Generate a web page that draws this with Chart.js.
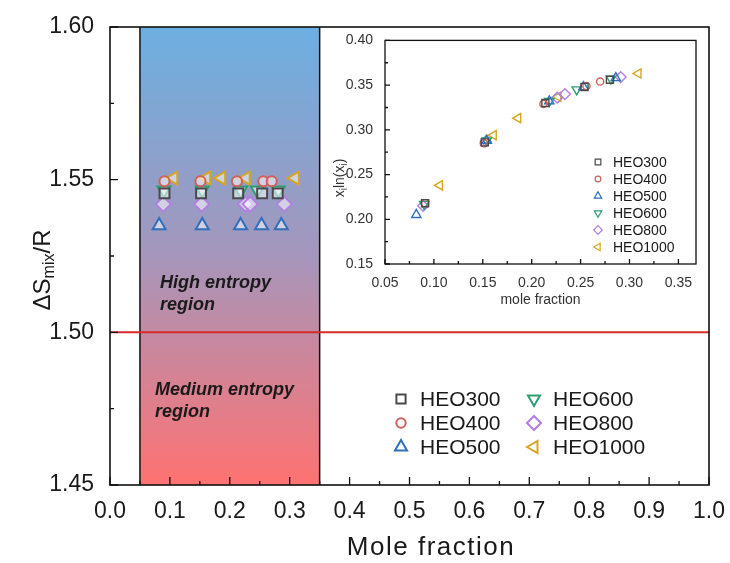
<!DOCTYPE html>
<html>
<head>
<meta charset="utf-8">
<script src="https://cdn.jsdelivr.net/npm/chart.js@4"></script>
<style>
  html, body { margin: 0; padding: 0; background: #fff; }
  #wrap { position: relative; width: 730px; height: 563px; }
  #main { position: absolute; left: 0; top: 0; }
  #inset { position: absolute; left: 328px; top: 28px; }
</style>
</head>
<body>
<div id="wrap">
  <canvas id="main" width="730" height="563"></canvas>
  <canvas id="inset" width="379" height="290"></canvas>
</div>
<script>
const FONT = '"Liberation Sans", Arial, sans-serif';

// series
const seriesNames = ["HEO300", "HEO400", "HEO500", "HEO600", "HEO800", "HEO1000"];
const seriesColors = ["#4a4a4a", "#d0605a", "#2f6fbd", "#2e9e72", "#b27ee2", "#d9a521"];

// mole fraction of each cation, per sample
const xHEO300 = [0.091, 0.152, 0.214, 0.254, 0.280];
const xHEO400 = [0.091, 0.151, 0.212, 0.256, 0.270];
const xHEO500 = [0.082, 0.154, 0.218, 0.253, 0.286];
const xHEO600 = [0.090, 0.154, 0.218, 0.246, 0.281];
const xHEO800 = [0.089, 0.153, 0.226, 0.234, 0.291];
const xHEO1000 = [0.106, 0.161, 0.186, 0.227, 0.309];

// ΔSmix/R of each sample
const entropyValues = [1.5455, 1.5495, 1.535, 1.5465, 1.542, 1.5505];
const entropyThreshold = 1.5;
const highEntropyBand = [0.05, 0.35];

// inset: xi ln(xi)
const yHEO300 = [0.218, 0.286, 0.330, 0.348, 0.356];
const yHEO400 = [0.218, 0.285, 0.329, 0.349, 0.354];
const yHEO500 = [0.205, 0.288, 0.332, 0.348, 0.358];
const yHEO600 = [0.217, 0.288, 0.332, 0.345, 0.357];
const yHEO800 = [0.215, 0.287, 0.336, 0.340, 0.359];
const yHEO1000 = [0.238, 0.294, 0.313, 0.337, 0.363];

const xSeries = [xHEO300, xHEO400, xHEO500, xHEO600, xHEO800, xHEO1000];
const ySeries = [yHEO300, yHEO400, yHEO500, yHEO600, yHEO800, yHEO1000];

// marker shapes; size is a relative factor per shape
const pointStyles = [
  { pointStyle: "rect", rotation: 0, size: 1.0 },
  { pointStyle: "circle", rotation: 0, size: 0.72 },
  { pointStyle: "triangle", rotation: 0, size: 1.07 },
  { pointStyle: "triangle", rotation: 180, size: 1.07 },
  { pointStyle: "rectRot", rotation: 0, size: 1.08 },
  { pointStyle: "triangle", rotation: -90, size: 1.07 },
];

function drawTicks(chart, majorLen, minorLen) {
  const { ctx, chartArea: a, scales } = chart;
  const x = scales.x, y = scales.y;
  ctx.save();
  ctx.strokeStyle = "#111";
  ctx.lineWidth = 1.3;
  ctx.beginPath();
  const xt = x.ticks.map((t) => t.value);
  xt.forEach((v, i) => {
    const px = x.getPixelForValue(v);
    ctx.moveTo(px, a.bottom);
    ctx.lineTo(px, a.bottom - majorLen);
    if (i < xt.length - 1) {
      const pm = x.getPixelForValue((v + xt[i + 1]) / 2);
      ctx.moveTo(pm, a.bottom);
      ctx.lineTo(pm, a.bottom - minorLen);
    }
  });
  const yt = y.ticks.map((t) => t.value);
  yt.forEach((v, i) => {
    const py = y.getPixelForValue(v);
    ctx.moveTo(a.left, py);
    ctx.lineTo(a.left + majorLen, py);
    if (i < yt.length - 1) {
      const pm = y.getPixelForValue((v + yt[i + 1]) / 2);
      ctx.moveTo(a.left, pm);
      ctx.lineTo(a.left + minorLen, pm);
    }
  });
  ctx.stroke();
  ctx.restore();
}

function drawLegendItem(ctx, i, px, py, radius, lw, font, gap) {
  ctx.save();
  ctx.strokeStyle = seriesColors[i];
  ctx.fillStyle = "rgba(255,255,255,0)";
  ctx.lineWidth = lw;
  Chart.helpers.drawPoint(ctx, {
    pointStyle: pointStyles[i].pointStyle,
    rotation: pointStyles[i].rotation,
    radius: radius * pointStyles[i].size,
    borderWidth: lw,
  }, px, py);
  ctx.fillStyle = "#1a1a1a";
  ctx.font = font;
  ctx.textAlign = "left";
  ctx.textBaseline = "middle";
  ctx.fillText(seriesNames[i], px + gap, py + 1);
  ctx.restore();
}

// ---------- main chart ----------
const bandPlugin = {
  id: "band",
  beforeDatasetsDraw(chart) {
    const { ctx, chartArea: a, scales: { x } } = chart;
    const x0 = x.getPixelForValue(highEntropyBand[0]);
    const x1 = x.getPixelForValue(highEntropyBand[1]);
    const g = ctx.createLinearGradient(0, a.top, 0, a.bottom);
    g.addColorStop(0, "#6cafe0");
    g.addColorStop(0.5, "#a596bb");
    g.addColorStop(1, "#ff7272");
    ctx.save();
    ctx.fillStyle = g;
    ctx.fillRect(x0, a.top, x1 - x0, a.bottom - a.top);
    ctx.strokeStyle = "#111";
    ctx.lineWidth = 1.5;
    ctx.beginPath();
    ctx.moveTo(x0, a.top); ctx.lineTo(x0, a.bottom);
    ctx.moveTo(x1, a.top); ctx.lineTo(x1, a.bottom);
    ctx.stroke();

    ctx.fillStyle = "#1a1a1a";
    ctx.textAlign = "left";
    ctx.textBaseline = "middle";
    ctx.font = "italic bold 18px " + FONT;
    ctx.fillText("High entropy", 160, 283);
    ctx.fillText("region", 160, 305);
    ctx.fillText("Medium entropy", 155, 390);
    ctx.fillText("region", 155, 412);
    ctx.restore();
  },
  afterDraw(chart) {
    const { ctx, chartArea: a } = chart;
    ctx.save();
    ctx.strokeStyle = "#111";
    ctx.lineWidth = 1.6;
    ctx.strokeRect(a.left, a.top, a.right - a.left, a.bottom - a.top);
    ctx.restore();
    drawTicks(chart, 8, 4);

    // x title
    ctx.save();
    ctx.fillStyle = "#1a1a1a";
    ctx.font = "26px " + FONT;
    ctx.letterSpacing = "1.5px";
    ctx.textAlign = "center";
    ctx.textBaseline = "middle";
    ctx.fillText("Mole fraction", 431, 548);
    ctx.restore();

    // y title with subscript
    ctx.save();
    ctx.translate(43, 270);
    ctx.rotate(-Math.PI / 2);
    ctx.fillStyle = "#1a1a1a";
    ctx.textBaseline = "middle";
    ctx.textAlign = "left";
    const big = "24px " + FONT, small = "16px " + FONT;
    ctx.font = big; const w1 = ctx.measureText("\u0394S").width;
    ctx.font = small; const w2 = ctx.measureText("mix").width;
    ctx.font = big; const w3 = ctx.measureText("/R").width;
    let sx = -(w1 + w2 + w3) / 2;
    ctx.font = big; ctx.fillText("\u0394S", sx, 0); sx += w1;
    ctx.font = small; ctx.fillText("mix", sx, 7); sx += w2;
    ctx.font = big; ctx.fillText("/R", sx, 0);
    ctx.restore();

    // legend, two columns
    const font = "21px " + FONT;
    for (let i = 0; i < seriesNames.length; i++) {
      const col = Math.floor(i / 3), row = i % 3;
      drawLegendItem(ctx, i, 401 + col * 133, 399 + row * 24, 6.5, 2, font, 19);
    }
  },
};

const mainDatasets = seriesNames.map((name, i) => ({
  label: name,
  data: xSeries[i].map((v) => ({ x: v, y: entropyValues[i] })),
  pointStyle: pointStyles[i].pointStyle,
  rotation: pointStyles[i].rotation,
  pointRadius: 7 * pointStyles[i].size,
  borderWidth: 2,
  borderColor: seriesColors[i],
  backgroundColor: "rgba(255,255,255,0.55)",
}));
mainDatasets.push({
  type: "line",
  label: "threshold",
  data: [{ x: 0, y: entropyThreshold }, { x: 1, y: entropyThreshold }],
  borderColor: "#d42a2a",
  borderWidth: 2,
  pointRadius: 0,
});

new Chart(document.getElementById("main"), {
  type: "scatter",
  data: { datasets: mainDatasets },
  options: {
    responsive: false,
    animation: false,
    devicePixelRatio: 1,
    layout: { padding: { top: 27, right: 20, left: 0, bottom: 0 } },
    plugins: { legend: { display: false }, tooltip: { enabled: false } },
    scales: {
      x: {
        type: "linear",
        min: 0,
        max: 1,
        grid: { display: false },
        border: { display: false },
        ticks: {
          stepSize: 0.1,
          padding: 5,
          color: "#1a1a1a",
          font: { size: 23, family: FONT },
          callback: (v) => v.toFixed(1),
          maxRotation: 0,
        },
        afterFit: (s) => { s.height = 78; },
      },
      y: {
        min: 1.45,
        max: 1.6,
        grid: { display: false },
        border: { display: false },
        ticks: {
          stepSize: 0.05,
          padding: 8,
          color: "#1a1a1a",
          font: { size: 23, family: FONT },
          callback: (v) => v.toFixed(2),
        },
        afterFit: (s) => { s.width = 110; },
      },
    },
  },
  plugins: [bandPlugin],
});

// ---------- inset ----------
const insetPlugin = {
  id: "insetFrame",
  afterDraw(chart) {
    const { ctx, chartArea: a } = chart;
    ctx.save();
    ctx.strokeStyle = "#111";
    ctx.lineWidth = 1.3;
    ctx.strokeRect(a.left, a.top, a.right - a.left, a.bottom - a.top);
    ctx.restore();
    drawTicks(chart, 5, 3);

    ctx.save();
    ctx.translate(12, 150);
    ctx.rotate(-Math.PI / 2);
    ctx.fillStyle = "#333";
    ctx.textBaseline = "middle";
    const big = "14px " + FONT, small = "10px " + FONT;
    const parts = [["x", big, 0], ["i", small, 4], ["ln(x", big, 0], ["i", small, 4], [")", big, 0]];
    let total = 0;
    parts.forEach((p) => { ctx.font = p[1]; total += ctx.measureText(p[0]).width; });
    let sx = -total / 2;
    parts.forEach((p) => {
      ctx.font = p[1];
      ctx.fillText(p[0], sx, p[2]);
      sx += ctx.measureText(p[0]).width;
    });
    ctx.restore();

    const font = "14px " + FONT;
    for (let i = 0; i < seriesNames.length; i++) {
      drawLegendItem(ctx, i, 270, 134 + i * 17, 4, 1.2, font, 15);
    }
  },
};

const insetDatasets = seriesNames.map((name, i) => ({
  label: name,
  data: xSeries[i].map((v, k) => ({ x: v, y: ySeries[i][k] })),
  pointStyle: pointStyles[i].pointStyle,
  rotation: pointStyles[i].rotation,
  pointRadius: 5 * pointStyles[i].size,
  borderWidth: 1.4,
  borderColor: seriesColors[i],
  backgroundColor: "rgba(255,255,255,0)",
}));

new Chart(document.getElementById("inset"), {
  type: "scatter",
  data: { datasets: insetDatasets },
  options: {
    responsive: false,
    animation: false,
    devicePixelRatio: 1,
    layout: { padding: { top: 10, right: 11, left: 0, bottom: 0 } },
    plugins: { legend: { display: false }, tooltip: { enabled: false } },
    scales: {
      x: {
        type: "linear",
        min: 0.05,
        max: 0.368,
        grid: { display: false },
        border: { display: false },
        afterBuildTicks: (s) => {
          s.ticks = [0.05, 0.1, 0.15, 0.2, 0.25, 0.3, 0.35].map((v) => ({ value: v }));
        },
        ticks: {
          padding: 3,
          color: "#333",
          font: { size: 14, family: FONT },
          callback: (v) => v.toFixed(2),
          maxRotation: 0,
        },
        title: {
          display: true,
          text: "mole fraction",
          color: "#333",
          font: { size: 14, family: FONT },
          padding: { top: 0, bottom: 9 },
        },
        afterFit: (s) => { s.height = 54; },
      },
      y: {
        min: 0.15,
        max: 0.4,
        grid: { display: false },
        border: { display: false },
        ticks: {
          stepSize: 0.05,
          padding: 4,
          color: "#333",
          font: { size: 14, family: FONT },
          callback: (v) => v.toFixed(2),
        },
        afterFit: (s) => { s.width = 57; },
      },
    },
  },
  plugins: [insetPlugin],
});
</script>
</body>
</html>
